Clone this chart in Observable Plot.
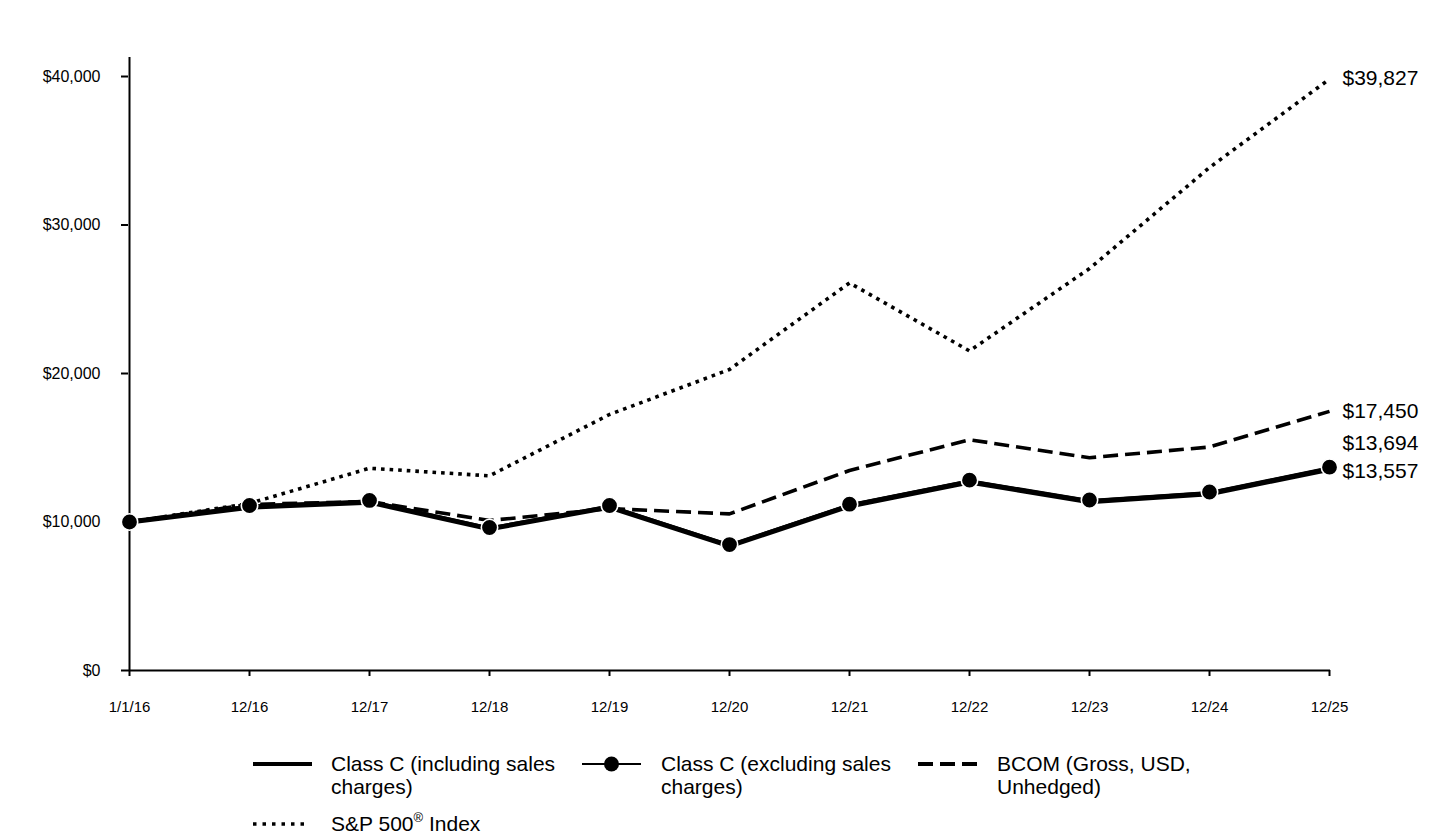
<!DOCTYPE html>
<html><head><meta charset="utf-8">
<script src="https://cdn.jsdelivr.net/npm/d3@7"></script>
<script src="https://cdn.jsdelivr.net/npm/@observablehq/plot@0.6"></script>
<style>
body{margin:0;background:#fff;font-family:"Liberation Sans",Arial,sans-serif;color:#000;}
#wrap{position:relative;width:1440px;height:840px;overflow:hidden;}
.leg{position:absolute;font-size:21px;line-height:23px;color:#000;white-space:nowrap;}
.sw{position:absolute;}
</style></head><body><div id="wrap"><div id="chart"></div><div id="legend"></div></div>
<script>
const periods = ["1/1/16","12/16","12/17","12/18","12/19","12/20","12/21","12/22","12/23","12/24","12/25"];
const classCIncl = [10000, 11000, 11335, 9535, 11000, 8395, 11080, 12690, 11360, 11900, 13557];
const classCExcl = [10000, 11110, 11450, 9630, 11110, 8480, 11200, 12820, 11480, 12020, 13694];
const bcom      = [10000, 11180, 11380, 10100, 10900, 10550, 13470, 15540, 14330, 15050, 17450];
const sp500     = [10000, 11250, 13620, 13110, 17240, 20270, 26100, 21520, 27070, 33870, 39827];
const seriesNames = ["Class C (including sales charges)", "Class C (excluding sales charges)", "BCOM (Gross, USD, Unhedged)", "S&P 500® Index"];
const yTicks = [0, 10000, 20000, 30000, 40000];
const yMax = 41280;

const fmt = d3.format(",");
const money = d => "$" + fmt(d);
const rows = (vals, s) => vals.map((v, i) => ({period: periods[i], value: v, series: s}));
const inclRows = rows(classCIncl, seriesNames[0]);
const exclRows = rows(classCExcl, seriesNames[1]);
const bcomRows = rows(bcom, seriesNames[2]);
const spRows = rows(sp500, seriesNames[3]);
const last = a => [a[a.length - 1]];

const chart = Plot.plot({
  width: 1440,
  height: 730,
  marginTop: 57,
  marginBottom: 60,
  marginLeft: 128,
  marginRight: 110,
  style: {fontFamily: '"Liberation Sans", Arial, sans-serif', fontSize: "15px", color: "#000", background: "#fff"},
  x: {type: "point", domain: periods, padding: 0, label: null},
  y: {domain: [0, yMax], label: null},
  marks: [
    Plot.axisY({ticks: yTicks, tickSize: 7, tickPadding: 21, tickFormat: money, fontSize: 16, strokeWidth: 2, label: null}),
    Plot.axisX({tickSize: 6, tickPadding: 25, fontSize: 15, strokeWidth: 2, label: null}),
    Plot.ruleX([periods[0]], {y1: 0, y2: yMax, stroke: "#000", strokeWidth: 2}),
    Plot.ruleY([0], {stroke: "#000", strokeWidth: 2}),
    Plot.line(spRows, {x: "period", y: "value", stroke: "#000", strokeWidth: 3.6, strokeDasharray: "3.6,5", strokeLinecap: "butt", strokeLinejoin: "miter"}),
    Plot.line(bcomRows, {x: "period", y: "value", stroke: "#000", strokeWidth: 3.6, strokeDasharray: "15,7", strokeLinecap: "butt", strokeLinejoin: "miter"}),
    Plot.line(inclRows, {x: "period", y: "value", stroke: "#000", strokeWidth: 5}),
    Plot.line(exclRows, {x: "period", y: "value", stroke: "#000", strokeWidth: 2}),
    Plot.dot(exclRows, {x: "period", y: "value", r: 8.2, fill: "#000", stroke: "#fff", strokeWidth: 1.6}),
    Plot.text(last(spRows), {x: "period", y: "value", text: d => money(d.value), textAnchor: "start", dx: 13, dy: -1, fontSize: 21, fill: "#000"}),
    Plot.text(last(bcomRows), {x: "period", y: "value", text: d => money(d.value), textAnchor: "start", dx: 13, dy: 0, fontSize: 21, fill: "#000"}),
    Plot.text(last(exclRows), {x: "period", y: "value", text: d => money(d.value), textAnchor: "start", dx: 13, dy: -24, fontSize: 21, fill: "#000"}),
    Plot.text(last(inclRows), {x: "period", y: "value", text: d => money(d.value), textAnchor: "start", dx: 13, dy: 2, fontSize: 21, fill: "#000"})
  ]
});
document.getElementById("chart").appendChild(chart);

// Legend
const legend = document.getElementById("legend");
const swatches = [
  '<line x1="0" y1="10" x2="59" y2="10" stroke="#000" stroke-width="4"/>',
  '<line x1="0" y1="10" x2="59" y2="10" stroke="#000" stroke-width="2"/><circle cx="29.5" cy="10" r="7.5" fill="#000"/>',
  '<line x1="0" y1="10" x2="59" y2="10" stroke="#000" stroke-width="4" stroke-dasharray="15,7"/>',
  '<line x1="0" y1="10" x2="56" y2="10" stroke="#000" stroke-width="3.5" stroke-dasharray="3.5,6"/>'
];
const labelsHtml = [
  "Class C (including sales<br>charges)",
  "Class C (excluding sales<br>charges)",
  "BCOM (Gross, USD,<br>Unhedged)",
  "S&amp;P 500<sup style=\"font-size:13px;line-height:0;position:relative;top:-1px\">®</sup> Index"
];
const pos = [[253, 331, 764], [582, 661, 764], [918, 997, 764], [253, 331, 824]];
labelsHtml.forEach((h, i) => {
  const [sx, tx, cy] = pos[i];
  const sw = document.createElement("div");
  sw.className = "sw";
  sw.style.left = sx + "px"; sw.style.top = (cy - 10) + "px";
  sw.innerHTML = '<svg width="60" height="20">' + swatches[i] + '</svg>';
  legend.appendChild(sw);
  const t = document.createElement("div");
  t.className = "leg";
  t.style.left = tx + "px"; t.style.top = (cy - 12) + "px";
  t.innerHTML = h;
  legend.appendChild(t);
});
</script></body></html>
